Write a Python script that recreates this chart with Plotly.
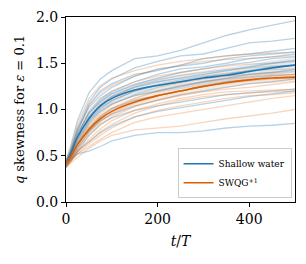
import plotly.graph_objects as go

t = [0, 10, 25, 50, 75, 100, 150, 200, 250, 300, 350, 400, 450, 500]

sw_members = [
    [0.45, 0.60, 0.88, 1.18, 1.33, 1.42, 1.55, 1.58, 1.64, 1.72, 1.80, 1.86, 1.91, 1.96],
    [0.42, 0.55, 0.80, 1.08, 1.24, 1.33, 1.45, 1.52, 1.58, 1.60, 1.66, 1.72, 1.74, 1.77],
    [0.40, 0.52, 0.76, 1.05, 1.20, 1.28, 1.38, 1.42, 1.48, 1.55, 1.58, 1.60, 1.63, 1.66],
    [0.44, 0.56, 0.78, 1.02, 1.15, 1.24, 1.36, 1.44, 1.47, 1.50, 1.55, 1.58, 1.60, 1.62],
    [0.41, 0.50, 0.72, 0.98, 1.12, 1.20, 1.30, 1.38, 1.44, 1.46, 1.50, 1.55, 1.57, 1.60],
    [0.43, 0.54, 0.74, 0.96, 1.08, 1.17, 1.27, 1.34, 1.40, 1.44, 1.48, 1.51, 1.55, 1.57],
    [0.39, 0.48, 0.68, 0.92, 1.05, 1.14, 1.24, 1.30, 1.34, 1.38, 1.42, 1.46, 1.50, 1.53],
    [0.42, 0.50, 0.66, 0.88, 1.02, 1.10, 1.20, 1.26, 1.30, 1.35, 1.38, 1.42, 1.46, 1.48],
    [0.40, 0.47, 0.63, 0.85, 0.98, 1.06, 1.15, 1.20, 1.25, 1.30, 1.34, 1.38, 1.40, 1.43],
    [0.38, 0.45, 0.60, 0.80, 0.93, 1.01, 1.10, 1.15, 1.20, 1.25, 1.30, 1.32, 1.36, 1.38],
    [0.41, 0.46, 0.58, 0.76, 0.88, 0.95, 1.04, 1.10, 1.16, 1.20, 1.24, 1.28, 1.30, 1.33],
    [0.37, 0.44, 0.55, 0.72, 0.84, 0.91, 0.99, 1.04, 1.08, 1.12, 1.16, 1.18, 1.20, 1.22],
    [0.40, 0.45, 0.55, 0.65, 0.75, 0.82, 0.92, 0.98, 1.02, 1.06, 1.10, 1.14, 1.17, 1.20],
    [0.42, 0.46, 0.52, 0.55, 0.60, 0.66, 0.72, 0.75, 0.75, 0.77, 0.80, 0.82, 0.83, 0.85],
]

qg_members = [
    [0.44, 0.58, 0.84, 1.12, 1.26, 1.34, 1.42, 1.48, 1.52, 1.55, 1.58, 1.60, 1.61, 1.62],
    [0.42, 0.54, 0.78, 1.04, 1.18, 1.26, 1.36, 1.43, 1.48, 1.52, 1.54, 1.55, 1.57, 1.58],
    [0.40, 0.50, 0.72, 0.96, 1.10, 1.19, 1.30, 1.36, 1.40, 1.44, 1.47, 1.49, 1.50, 1.52],
    [0.43, 0.52, 0.70, 0.92, 1.05, 1.14, 1.25, 1.32, 1.37, 1.40, 1.43, 1.45, 1.47, 1.48],
    [0.41, 0.49, 0.66, 0.87, 1.00, 1.09, 1.20, 1.27, 1.32, 1.36, 1.39, 1.42, 1.43, 1.44],
    [0.39, 0.47, 0.63, 0.83, 0.96, 1.05, 1.16, 1.24, 1.29, 1.33, 1.36, 1.38, 1.40, 1.41],
    [0.42, 0.48, 0.62, 0.80, 0.92, 1.01, 1.12, 1.20, 1.26, 1.30, 1.33, 1.35, 1.37, 1.38],
    [0.38, 0.45, 0.58, 0.75, 0.87, 0.96, 1.07, 1.15, 1.20, 1.25, 1.28, 1.31, 1.33, 1.34],
    [0.40, 0.46, 0.57, 0.72, 0.83, 0.92, 1.03, 1.10, 1.15, 1.19, 1.22, 1.24, 1.27, 1.30],
    [0.37, 0.43, 0.54, 0.68, 0.79, 0.88, 0.99, 1.06, 1.12, 1.16, 1.19, 1.20, 1.21, 1.22],
    [0.41, 0.45, 0.55, 0.66, 0.76, 0.84, 0.96, 1.04, 1.10, 1.14, 1.16, 1.18, 1.19, 1.20],
    [0.39, 0.44, 0.52, 0.63, 0.72, 0.80, 0.92, 0.99, 1.04, 1.08, 1.12, 1.15, 1.16, 1.18],
    [0.40, 0.44, 0.52, 0.60, 0.68, 0.75, 0.86, 0.92, 0.96, 1.00, 1.04, 1.08, 1.12, 1.15],
    [0.38, 0.42, 0.48, 0.58, 0.66, 0.72, 0.78, 0.80, 0.82, 0.86, 0.90, 0.93, 0.96, 1.00],
]

sw_mean = [0.42, 0.52, 0.70, 0.90, 1.04, 1.12, 1.21, 1.26, 1.30, 1.34, 1.37, 1.41, 1.45, 1.48]
qg_mean = [0.42, 0.49, 0.62, 0.78, 0.90, 0.98, 1.08, 1.15, 1.20, 1.25, 1.29, 1.32, 1.34, 1.35]
sw_err = [0.03, 0.04, 0.05, 0.06, 0.07, 0.07, 0.07, 0.08, 0.08, 0.08, 0.08, 0.08, 0.08, 0.08]
qg_err = [0.02, 0.03, 0.04, 0.05, 0.05, 0.05, 0.05, 0.05, 0.05, 0.05, 0.05, 0.05, 0.05, 0.05]

x_ticks = [0, 200, 400]
y_ticks = [0.0, 0.5, 1.0, 1.5, 2.0]

BLUE = "#1f77b4"
ORANGE = "#d95f02"
FONT = "DejaVu Serif"

fig = go.Figure()

for m in sw_members:
    fig.add_trace(go.Scatter(x=t, y=m, mode="lines", line=dict(color="rgba(31,119,180,0.32)", width=1.3),
                             showlegend=False, hoverinfo="skip"))
for m in qg_members:
    fig.add_trace(go.Scatter(x=t, y=m, mode="lines", line=dict(color="rgba(230,120,40,0.30)", width=1.3),
                             showlegend=False, hoverinfo="skip"))

def band(mean, err, fillcolor):
    up = [a + b for a, b in zip(mean, err)]
    lo = [a - b for a, b in zip(mean, err)]
    fig.add_trace(go.Scatter(x=t, y=up, mode="lines", line=dict(width=0), showlegend=False,
                             hoverinfo="skip", line_shape="spline"))
    fig.add_trace(go.Scatter(x=t, y=lo, mode="lines", line=dict(width=0), fill="tonexty",
                             fillcolor=fillcolor, showlegend=False, hoverinfo="skip", line_shape="spline"))

band(sw_mean, sw_err, "rgba(31,119,180,0.15)")
band(qg_mean, qg_err, "rgba(217,95,2,0.13)")

fig.add_trace(go.Scatter(x=t, y=sw_mean, mode="lines", line=dict(color=BLUE, width=1.6),
                         name="Shallow water", line_shape="spline"))
fig.add_trace(go.Scatter(x=t, y=qg_mean, mode="lines", line=dict(color=ORANGE, width=1.6),
                         name="SWQG<sup>+1</sup>", line_shape="spline"))

axis_common = dict(showgrid=False, zeroline=False, showline=True, linecolor="black", linewidth=1,
                   mirror=True, ticks="outside", ticklen=4, tickwidth=1, tickcolor="black",
                   automargin=False,
                   tickfont=dict(family=FONT, size=14, color="black"))

fig.update_layout(
    width=306, height=264,
    margin=dict(l=66, r=11, t=17, b=62, autoexpand=False),
    paper_bgcolor="white", plot_bgcolor="white",
    font=dict(family=FONT, color="black"),
    xaxis=dict(range=[0, 500], tickvals=x_ticks, ticktext=[str(v) for v in x_ticks],
               title=dict(text="<i>t</i>/<i>T</i>", font=dict(family=FONT, size=14), standoff=10),
               **axis_common),
    yaxis=dict(range=[0, 2.0], tickvals=y_ticks, ticktext=[f"{v:.1f}" for v in y_ticks],
               title=dict(text="<i>q</i> skewness for <i>ε</i> = 0.1", font=dict(family=FONT, size=13), standoff=8),
               **axis_common),
    legend=dict(x=0.985, y=0.02, xanchor="right", yanchor="bottom", traceorder="normal",
                bgcolor="rgba(255,255,255,0.85)", bordercolor="#cccccc", borderwidth=1,
                font=dict(family=FONT, size=9, color="black"), tracegroupgap=0, itemwidth=30),
)

fig.write_html("out.html", config={"displayModeBar": False},
               post_script="document.body.style.margin='0';document.body.style.padding='0';")
